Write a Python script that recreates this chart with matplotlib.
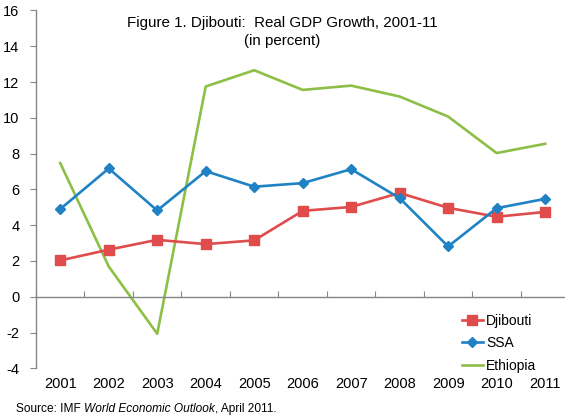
import matplotlib
matplotlib.use("Agg")
import matplotlib.pyplot as plt
import numpy as np

plt.rcParams['font.family'] = ['Liberation Sans', 'DejaVu Sans']

years = ["2001", "2002", "2003", "2004", "2005", "2006", "2007", "2008", "2009", "2010", "2011"]
djibouti = [2.03, 2.63, 3.18, 2.94, 3.15, 4.8, 5.02, 5.8, 4.97, 4.47, 4.74]
ssa = [4.9, 7.17, 4.82, 7.02, 6.15, 6.35, 7.13, 5.51, 2.81, 4.95, 5.47]
ethiopia = [7.47, 1.69, -2.07, 11.75, 12.66, 11.56, 11.8, 11.19, 10.07, 8.03, 8.55]
yticks = [-4, -2, 0, 2, 4, 6, 8, 10, 12, 14, 16]

c_red = '#E04B4B'
c_blue = '#1F82C4'
c_green = '#8CBF45'
c_axis = '#868686'

fig = plt.figure(figsize=(5.65, 4.19), dpi=100)
ax = fig.add_axes([0.0637, 0.121, 1.0 - 0.0637, 0.975 - 0.121])

x = np.arange(len(years))
ax.plot(x, djibouti, color=c_red, lw=1.9, marker='s', ms=6.5, label='Djibouti', zorder=3)
ax.plot(x, ssa, color=c_blue, lw=1.9, marker='D', ms=5.5, label='SSA', zorder=4)
ax.plot(x, ethiopia, color=c_green, lw=1.9, label='Ethiopia', zorder=2)

ax.set_xlim(-0.5, 10.41)
ax.set_ylim(-4, 16)
ax.set_yticks(yticks)
ax.set_yticklabels([str(v) for v in yticks], fontsize=10.5)

for s in ['top', 'right']:
    ax.spines[s].set_visible(False)
ax.spines['left'].set_color(c_axis)
ax.spines['bottom'].set_color(c_axis)
ax.spines['bottom'].set_position(('data', 0))
ax.spines['left'].set_linewidth(1.0)
ax.spines['bottom'].set_linewidth(1.0)

ax.set_xticks(np.arange(-0.5, 10.5, 1.0))
ax.tick_params(axis='x', direction='in', length=4, color=c_axis, labelbottom=False)
ax.tick_params(axis='y', direction='out', length=4, color=c_axis, pad=8)

for i, yr in enumerate(years):
    ax.text(i, -0.045, yr, transform=ax.get_xaxis_transform(), ha='center', va='center', fontsize=10.5)

fig.text(0.5, 0.944, "Figure 1. Djibouti:  Real GDP Growth, 2001-11", ha='center', va='center', fontsize=10.9)
fig.text(0.5, 0.903, "(in percent)", ha='center', va='center', fontsize=10.9)

leg = ax.legend(loc='lower left', bbox_to_anchor=(0.805, -0.012), frameon=False, fontsize=10,
                handlelength=1.5, handletextpad=0.25, labelspacing=0.6, borderaxespad=0.0,
                borderpad=0.0)

fs = 8.6
t1 = fig.text(0.028, 0.025, "Source: IMF ", fontsize=fs, ha='left', va='center')
fig.canvas.draw()
r = fig.canvas.get_renderer()
bb = t1.get_window_extent(r)
t2 = fig.text(bb.x1 / fig.bbox.width, 0.025, "World Economic Outlook", fontsize=fs, ha='left', va='center', style='italic')
bb2 = t2.get_window_extent(r)
fig.text(bb2.x1 / fig.bbox.width, 0.025, ", April 2011.", fontsize=fs, ha='left', va='center')

fig.savefig("out.png", dpi=100)
